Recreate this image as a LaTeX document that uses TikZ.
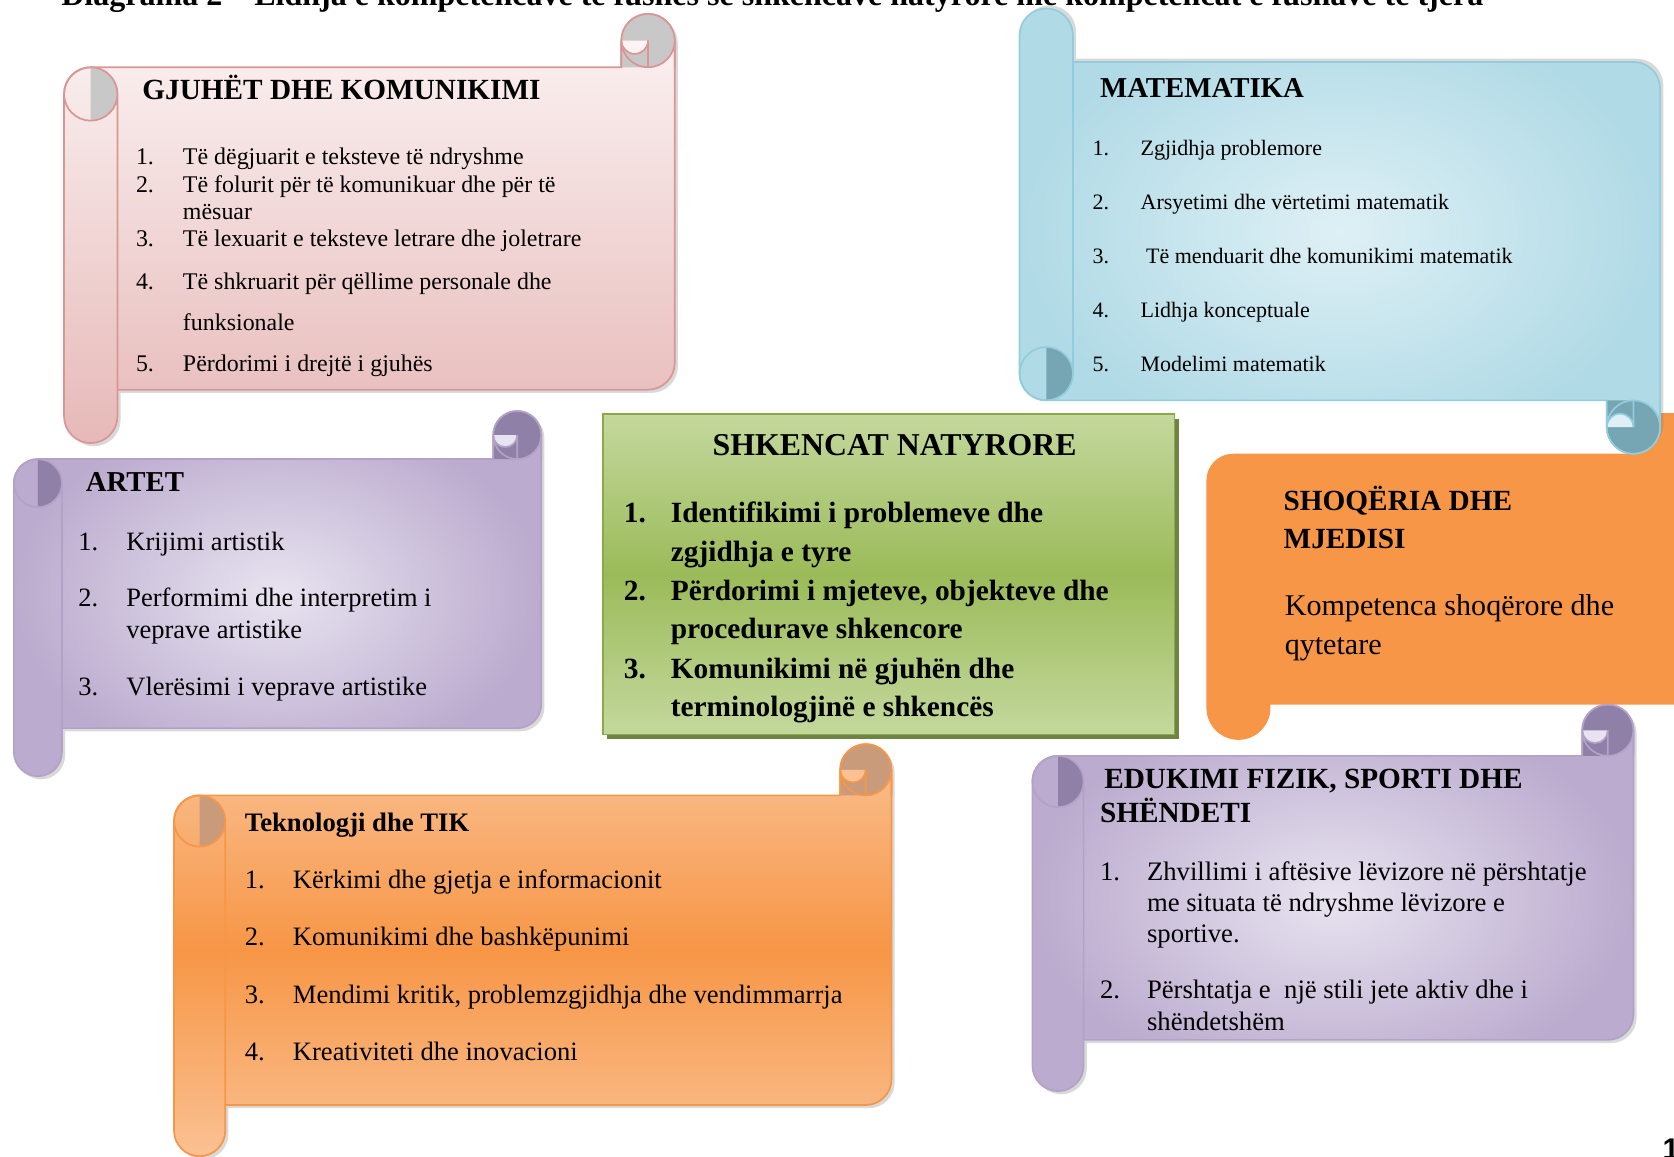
\documentclass[tikz,border=0pt]{standalone}
\usepackage{fontspec}
\setmainfont{Liberation Serif}
\newfontfamily\pgnumfont{Liberation Sans}
\usetikzlibrary{shadows}
\definecolor{pinkline}{HTML}{D99694}
\definecolor{pinktop}{HTML}{FCF4F4}
\definecolor{pinkbot}{HTML}{E6B9B8}
\definecolor{curlgray}{HTML}{C8C8C8}
\definecolor{blueline}{HTML}{93CDDD}
\definecolor{bluein}{HTML}{DEF0F5}
\definecolor{blueout}{HTML}{B0DAE6}
\definecolor{bluecurl}{HTML}{76A6B3}
\definecolor{purpline}{HTML}{B3A2C7}
\definecolor{purpin}{HTML}{E8E3F0}
\definecolor{purpout}{HTML}{BBABCE}
\definecolor{purpcurl}{HTML}{8F80A7}
\definecolor{orangemain}{HTML}{F79646}
\definecolor{orangelight}{HTML}{FAC193}
\definecolor{orangecurl}{HTML}{C99B7B}
\definecolor{greenlight}{HTML}{C4D89D}
\definecolor{greenmid}{HTML}{9BBB59}
\definecolor{greenline}{HTML}{8AAA4A}
\definecolor{greendark}{HTML}{5F7530}
\tikzset{
  headtxt/.style={anchor=mid west, inner sep=0pt, font=\bfseries\fontsize{#1}{#1}\selectfont},
  bodytxt/.style={anchor=mid west, inner sep=0pt, font=\fontsize{#1}{#1}\selectfont},
  pink line/.style={draw=pinkline, line width=.8pt},
  pink body/.style={pink line, top color=pinktop, bottom color=pinkbot,
    drop shadow={shadow xshift=1.5pt, shadow yshift=-1.5pt, opacity=.3}},
  pink curl/.style={fill=curlgray},
  pink soft/.style={fill=pinktop, pink line},
  blue line/.style={draw=blueline, line width=.8pt},
  blue body/.style={blue line, inner color=bluein, outer color=blueout,
    drop shadow={shadow xshift=1.5pt, shadow yshift=1.5pt, opacity=.3}},
  blue curl/.style={fill=bluecurl},
  blue soft/.style={fill=bluein, blue line},
  purp line/.style={draw=purpline, line width=.8pt},
  purp body/.style={purp line, inner color=purpin, outer color=purpout,
    drop shadow={shadow xshift=1.5pt, shadow yshift=-1.5pt, opacity=.3}},
  purp curl/.style={fill=purpcurl},
  purp soft/.style={fill=purpin, purp line},
  orng line/.style={draw=orangemain, line width=.8pt},
  orng body/.style={orng line, top color=orangelight, bottom color=orangelight, middle color=orangemain,
    drop shadow={shadow xshift=1.5pt, shadow yshift=-1.5pt, opacity=.3}},
  orng curl/.style={fill=orangecurl},
  orng soft/.style={fill=orangelight, orng line},
  greenbox/.style={draw=greenline, line width=.8pt, top color=greenlight, bottom color=greenlight,
    middle color=greenmid, drop shadow={shadow xshift=2pt, shadow yshift=-2pt, fill=greendark, opacity=.9}},
}
% scroll: left, top, right, bottom, roll width, theme
\newcommand\scroll[6]{%
  \pgfmathsetmacro\rh{#5/2}\pgfmathsetmacro\rq{#5/4}%
  \path[#6 body] (#1,{-(#2+#5+\rh)}) arc[start angle=180,end angle=90,radius=\rh]
    -- ({#3-#5},{-(#2+#5)}) -- ({#3-#5},{-(#2+\rh)})
    arc[start angle=180,end angle=0,radius=\rh]
    -- (#3,{-(#4-#5-\rh)}) arc[start angle=0,end angle=-90,radius=\rh]
    -- ({#1+#5},{-(#4-#5)}) -- ({#1+#5},{-(#4-\rh)})
    arc[start angle=0,end angle=-180,radius=\rh] -- cycle;
  % curl top right
  \fill[#6 curl] ({#3-\rh},{-(#2+\rh)}) circle[radius=\rh]
    ({#3-#5},{-(#2+\rh)}) rectangle ({#3-\rh},{-(#2+#5)});
  \filldraw[#6 soft] ({#3-\rh},{-(#2+\rh)}) arc[start angle=0,end angle=-180,radius=\rq];
  \draw[#6 line] ({#3-\rh},{-(#2+\rh)}) circle[radius=\rh]
    ({#3-\rh},{-(#2+\rh)}) -- ({#3-\rh},{-(#2+#5)})
    ({#3-#5},{-(#2+\rh)}) -- ({#3-#5},{-(#2+#5)})
    (#3,{-(#2+\rh)}) -- (#3,{-(#2+#5)});
  % curl top left
  \fill[#6 curl] ({#1+\rh},{-(#2+#5)}) arc[start angle=90,end angle=-90,radius=\rh] -- cycle;
  \draw[#6 line] ({#1+\rh},{-(#2+#5+\rh)}) circle[radius=\rh]
    ({#1+#5},{-(#2+#5+\rh)}) -- ({#1+#5},{-(#4-#5)});
}
\begin{document}
\begin{tikzpicture}[x=0.5pt,y=0.5pt]
\useasboundingbox (0,0) rectangle (1568,-1083);
\node[headtxt=15, anchor=base west] (head) at (57,-5) {Diagrama 2 – Lidhja e kompetencave të fushës së shkencave natyrore me kompetencat e fushave të tjera};

% shoqeria (flat, behind the blue scroll)
\fill[orangemain] (1130,-450) arc[start angle=180,end angle=90,radius=25] -- (1525,-425) -- (1525,-410)
  arc[start angle=180,end angle=90,radius=23] -- (1600,-387) -- (1600,-660) -- (1190,-660) -- (1190,-663)
  arc[start angle=0,end angle=-180,radius=30] -- cycle;

% scrolls
\begin{scope}[shift={(0,-433)}, yscale=-1]
\scroll{955}{8}{1555}{425}{50}{blue}
\end{scope}
\scroll{60}{13}{632}{415}{50}{pink}
\scroll{13}{385}{507}{727}{45}{purp}
\scroll{163}{697}{835}{1083}{48}{orng}
\scroll{967}{660}{1530}{1022}{48}{purp}
\path[greenbox] (565,-388) rectangle (1100,-688);

\begin{scope}[yshift=-2.3pt]
% gjuhet
\node[headtxt=13.7] (gh) at (133,-84) {GJUHËT DHE KOMUNIKIMI};
\foreach \y/\n in {145/1,171/2,222/3,262/4,339/5}
  \node[bodytxt=11.2] (gn\n) at (127,-\y) {\n.};
\foreach \y/\t [count=\k] in {145/{Të dëgjuarit e teksteve të ndryshme},171/{Të folurit për të komunikuar dhe për të},196/mësuar,222/{Të lexuarit e teksteve letrare dhe joletrare},262/{Të shkruarit për qëllime personale dhe},300/funksionale,339/{Përdorimi i drejtë i gjuhës}}
  \node[bodytxt=11.2] (gt\k) at (171,-\y) {\t};

% matematika
\node[headtxt=13.5] (mh) at (1030,-82) {MATEMATIKA};
\foreach \t [count=\k] in {Zgjidhja problemore, Arsyetimi dhe vërtetimi matematik, {\ Të menduarit dhe komunikimi matematik}, Lidhja konceptuale, Modelimi matematik}{
  \node[bodytxt=10.3] (mn\k) at (1023,{-136-50.75*(\k-1)}) {\k.};
  \node[bodytxt=10.3] (mt\k) at (1068,{-136-50.75*(\k-1)}) {\t};}

% artet
\node[headtxt=13.5] (ah) at (80,-451) {ARTET};
\foreach \y/\n in {506/1,559/2,642/3}
  \node[bodytxt=12.4] (an\n) at (73,-\y) {\n.};
\foreach \y/\t [count=\k] in {506/{Krijimi artistik},559/{Performimi dhe interpretim i},589/{veprave artistike},642/{Vlerësimi i veprave artistike}}
  \node[bodytxt=12.4] (at\k) at (118,-\y) {\t};

% shkencat natyrore
\node[headtxt=14.9, anchor=mid] (sh) at (838,-417) {SHKENCAT NATYRORE};
\foreach \y/\n in {480/1,553/2,626/3}
  \node[headtxt=13.75] (sn\n) at (584,-\y) {\n.};
\foreach \y/\t [count=\k] in {480/{Identifikimi i problemeve dhe},517/{zgjidhja e tyre},553/{Përdorimi i mjeteve, objekteve dhe},589/{procedurave shkencore},626/{Komunikimi në gjuhën dhe},662/{terminologjinë e shkencës}}
  \node[headtxt=13.75] (st\k) at (628,-\y) {\t};

% shoqeria
\node[headtxt=13.7] (qh1) at (1202,-469) {SHOQËRIA DHE};
\node[headtxt=13.7] (qh2) at (1202,-505) {MJEDISI};
\node[bodytxt=14.1] (qt1) at (1203,-567) {Kompetenca shoqërore dhe};
\node[bodytxt=14.1] (qt2) at (1203,-604) {qytetare};

% tik
\node[headtxt=12.5] (th) at (229,-770) {Teknologji dhe TIK};
\foreach \t [count=\k] in {Kërkimi dhe gjetja e informacionit, Komunikimi dhe bashkëpunimi, {Mendimi kritik, problemzgjidhja dhe vendimmarrja}, Kreativiteti dhe inovacioni}{
  \node[bodytxt=12.44] (tn\k) at (229,{-823-53.7*(\k-1)}) {\k.};
  \node[bodytxt=12.44] (tt\k) at (274,{-823-53.7*(\k-1)}) {\t};}

% edukimi fizik
\node[headtxt=13.7] (eh1) at (1034,-729) {EDUKIMI FIZIK, SPORTI DHE};
\node[headtxt=13.7] (eh2) at (1030,-761) {SHËNDETI};
\foreach \y/\n in {816/1,926/2}
  \node[bodytxt=12.5] (en\n) at (1030,-\y) {\n.};
\foreach \y/\t [count=\k] in {816/{Zhvillimi i aftësive lëvizore në përshtatje},845/{me situata të ndryshme lëvizore e},874/{sportive.},926/{Përshtatja e\ \ një stili jete aktiv dhe i},956/shëndetshëm}
  \node[bodytxt=12.5] (et\k) at (1074,-\y) {\t};
\end{scope}

\node[anchor=north west, inner sep=0pt, font=\pgnumfont\bfseries\fontsize{14}{14}\selectfont] (pg) at (1557,-1066) {1};
\end{tikzpicture}
\end{document}
